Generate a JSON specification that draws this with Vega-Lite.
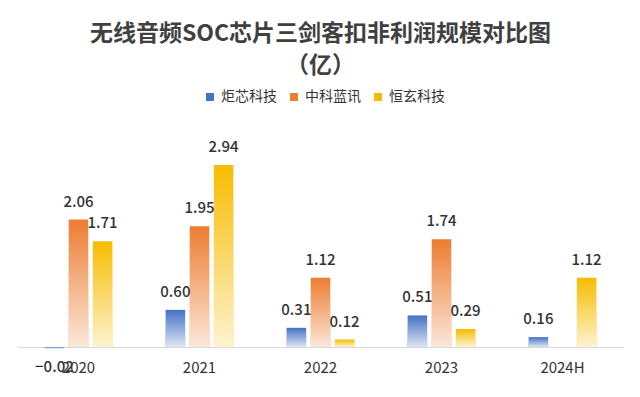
{
  "$schema": "https://vega.github.io/schema/vega-lite/v6.json",
  "width": 605,
  "height": 198,
  "autosize": "none",
  "padding": {"left": 18, "top": 149, "right": 17, "bottom": 50},
  "background": "white",
  "title": {
    "text": ["无线音频SOC芯片三剑客扣非利润规模对比图", "（亿）"],
    "fontSize": 23,
    "fontWeight": "bold",
    "color": "#404040",
    "font": "Noto Sans CJK SC",
    "anchor": "middle",
    "lineHeight": 32,
    "offset": 12
  },
  "config": {"view": {"stroke": null}},
  "data": {
    "values": [
      {"year": "2020", "company": "炬芯科技", "v": -0.02},
      {"year": "2020", "company": "中科蓝讯", "v": 2.06},
      {"year": "2020", "company": "恒玄科技", "v": 1.71},
      {"year": "2021", "company": "炬芯科技", "v": 0.60},
      {"year": "2021", "company": "中科蓝讯", "v": 1.95},
      {"year": "2021", "company": "恒玄科技", "v": 2.94},
      {"year": "2022", "company": "炬芯科技", "v": 0.31},
      {"year": "2022", "company": "中科蓝讯", "v": 1.12},
      {"year": "2022", "company": "恒玄科技", "v": 0.12},
      {"year": "2023", "company": "炬芯科技", "v": 0.51},
      {"year": "2023", "company": "中科蓝讯", "v": 1.74},
      {"year": "2023", "company": "恒玄科技", "v": 0.29},
      {"year": "2024H", "company": "炬芯科技", "v": 0.16},
      {"year": "2024H", "company": "恒玄科技", "v": 1.12}
    ]
  },
  "encoding": {
    "x": {
      "field": "year",
      "type": "nominal",
      "sort": ["2020", "2021", "2022", "2023", "2024H"],
      "scale": {"paddingInner": 0.44, "paddingOuter": 0.22},
      "axis": {
        "title": null,
        "labelAngle": 0,
        "ticks": false,
        "domainColor": "#d9d9d9",
        "domainWidth": 1,
        "labelFontSize": 15,
        "labelColor": "#333333",
        "labelPadding": 13,
        "labelFont": "Noto Sans CJK SC"
      }
    },
    "xOffset": {
      "field": "company",
      "type": "nominal",
      "sort": ["炬芯科技", "中科蓝讯", "恒玄科技"],
      "scale": {"paddingInner": 0.19, "paddingOuter": 0}
    },
    "y": {
      "field": "v",
      "type": "quantitative",
      "scale": {"domain": [0, 3.2], "nice": false},
      "axis": null
    }
  },
  "layer": [
    {
      "mark": {"type": "bar"},
      "encoding": {
        "color": {
          "field": "company",
          "type": "nominal",
          "sort": ["炬芯科技", "中科蓝讯", "恒玄科技"],
          "scale": {"domain": ["炬芯科技", "中科蓝讯", "恒玄科技"], "range": ["#4472c4", "#ed7d31", "#f7bc00"]},
          "legend": {
            "orient": "none",
            "legendX": 185,
            "legendY": -59,
            "direction": "horizontal",
            "title": null,
            "symbolType": "square",
            "symbolSize": 64,
            "labelFontSize": 14,
            "labelColor": "#333333",
            "labelFont": "Noto Sans CJK SC",
            "columnPadding": 10
          }
        }
      }
    },
    {
      "mark": {
        "type": "bar",
        "fill": {
          "gradient": "linear",
          "x1": 0, "y1": 0, "x2": 0, "y2": 1,
          "stops": [
            {"offset": 0, "color": "rgba(255,255,255,0)"},
            {"offset": 1, "color": "rgba(255,255,255,0.82)"}
          ]
        }
      }
    },
    {
      "transform": [{"filter": "datum.v >= 0"}],
      "mark": {"type": "text", "baseline": "bottom", "dy": -10, "fontSize": 15, "fontWeight": 500, "color": "#333333", "font": "Noto Sans CJK SC"},
      "encoding": {"text": {"field": "v", "type": "quantitative", "format": ".2f"}}
    },
    {
      "transform": [{"filter": "datum.v < 0"}],
      "mark": {"type": "text", "baseline": "top", "dy": 12, "fontSize": 15, "fontWeight": 500, "color": "#333333", "font": "Noto Sans CJK SC"},
      "encoding": {"text": {"field": "v", "type": "quantitative", "format": ".2f"}}
    }
  ]
}
